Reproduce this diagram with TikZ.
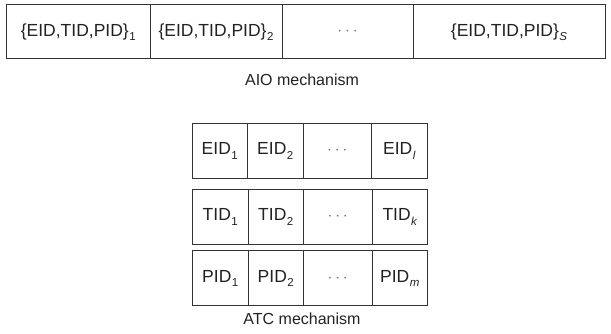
\documentclass[tikz,border=0pt]{standalone}
\usepackage{fontspec}
\setmainfont{Liberation Sans}
\usepackage{tikz}
\usetikzlibrary{positioning}
\definecolor{idline}{HTML}{333333}
\definecolor{idtext}{HTML}{222222}
\newcommand{\idx}[1]{\kern0.5pt\raisebox{-4.5pt}{\fontsize{11.5}{12}\selectfont#1}}
\newcommand{\more}{{\color{black!55}$\cdots$}}

\begin{document}
\begin{tikzpicture}[x=1pt,y=1pt,
  cell/.style={draw=idline,line width=1pt,outer sep=0pt,inner sep=0pt,
    minimum height=54pt,text=idtext,font=\fontsize{17.5}{20}\selectfont},
  wide/.style={cell,minimum width=132pt},
  slot/.style={cell,minimum width=55.5pt,minimum height=55pt},
  mech/.style={text=idtext,font=\fontsize{16}{19}\selectfont}]
  \useasboundingbox (0,0) rectangle (611,334);
  % all-in-one row
  \node[wide,minimum width=143.5pt,anchor=west] (aio1) at (6.5,302) {\{EID,TID,PID\}\idx{1}};
  \node[wide,right=0pt of aio1] (aio2) {\{EID,TID,PID\}\idx{2}};
  \node[wide,minimum width=131pt,right=0pt of aio2] (aio3) {\more};
  \node[wide,minimum width=192pt,right=0pt of aio3] (aios) {\{EID,TID,PID\}\idx{\itshape S}};
  \node[mech] (aio) at (302,254) {AIO mechanism};
  % separate rows
  \node[slot,anchor=west] (e1) at (192,183) {EID\idx{1}};
  \node[slot,right=0pt of e1] (e2) {EID\idx{2}};
  \node[slot,minimum width=68.5pt,right=0pt of e2] (e3) {\more};
  \node[slot,right=0pt of e3] (el) {EID\idx{\itshape l}};
  \node[slot,anchor=west] (t1) at (192.5,117) {TID\idx{1}};
  \node[slot,right=0pt of t1] (t2) {TID\idx{2}};
  \node[slot,minimum width=68.5pt,right=0pt of t2] (t3) {\more};
  \node[slot,right=0pt of t3] (tk) {TID\idx{\itshape k}};
  \node[slot,anchor=west] (p1) at (192.5,55.5) {PID\idx{1}};
  \node[slot,right=0pt of p1] (p2) {PID\idx{2}};
  \node[slot,minimum width=68.5pt,right=0pt of p2] (p3) {\more};
  \node[slot,right=0pt of p3] (pm) {PID\idx{\itshape m}};
  \node[mech] (atc) at (302,15) {ATC mechanism};
\end{tikzpicture}
\end{document}
